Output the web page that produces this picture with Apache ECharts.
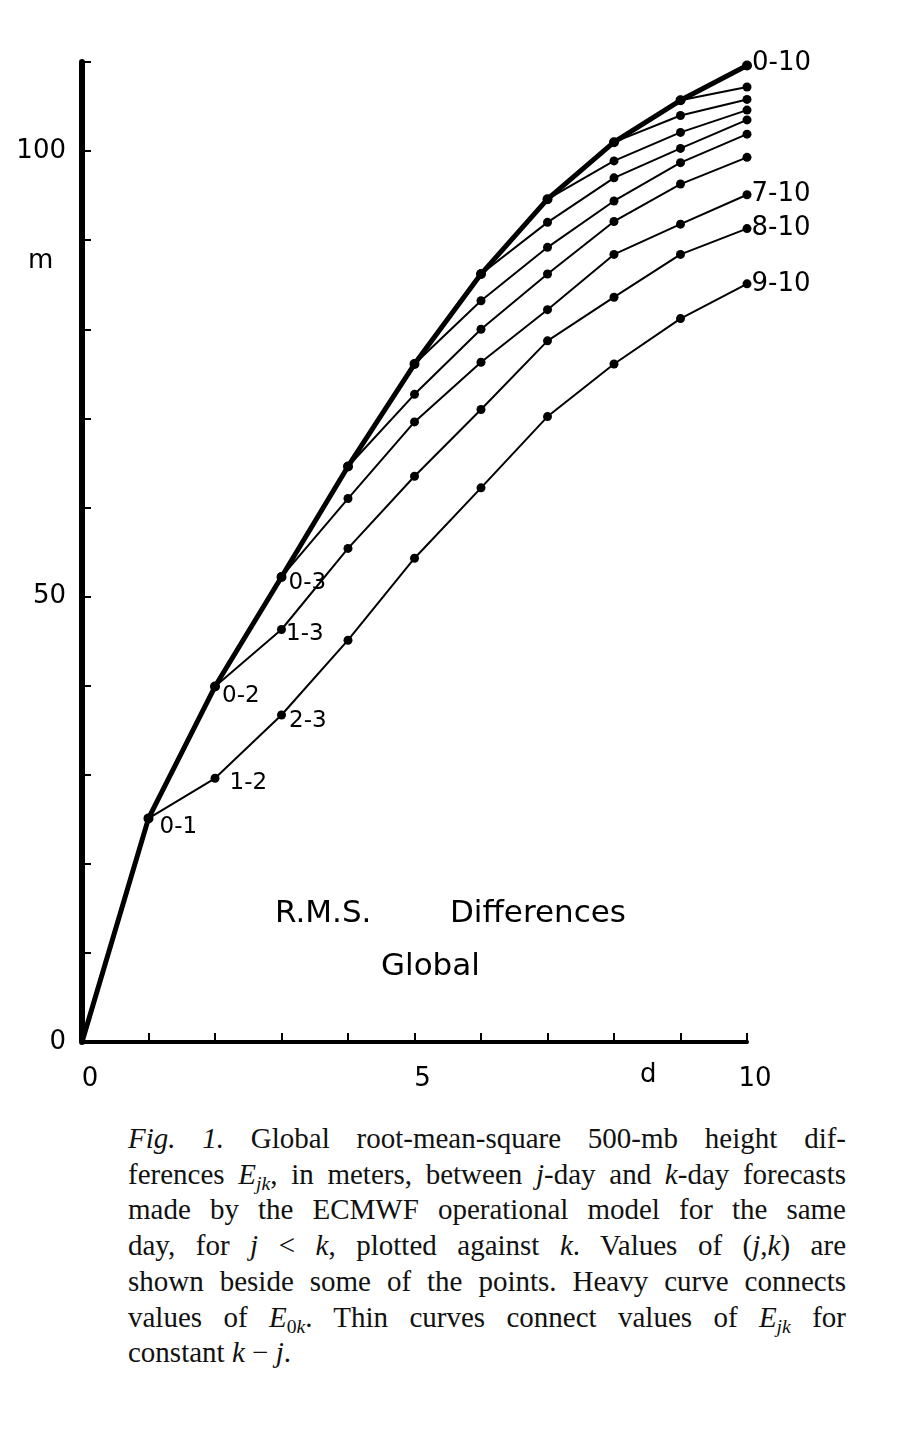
<!DOCTYPE html>
<html>
<head>
<meta charset="utf-8">
<script src="https://cdn.jsdelivr.net/npm/echarts@6/dist/echarts.min.js"></script>
<style>
  html, body { margin: 0; padding: 0; background: #fff; }
  #chart { position: absolute; left: 0; top: 0; width: 902px; height: 1110px; }
  #cap { position: absolute; left: 128px; top: 1121px; width: 718px;
         font-family: "Liberation Serif", "Times New Roman", serif; font-size: 29px;
         line-height: 35.7px; color: #111; }
  #cap .l { text-align: justify; text-align-last: justify; white-space: nowrap; }
  #cap .last { text-align: left; }
  #cap sub { font-size: 0.68em; line-height: 0; vertical-align: -0.3em; }
</style>
</head>
<body>
<div id="chart"></div>
<div id="cap">
  <div class="l"><i>Fig. 1.</i> Global root-mean-square 500-mb height dif-</div>
  <div class="l">ferences <i>E<sub>jk</sub></i>, in meters, between <i>j</i>-day and <i>k</i>-day forecasts</div>
  <div class="l">made by the ECMWF operational model for the same</div>
  <div class="l">day, for <i>j</i> &lt; <i>k</i>, plotted against <i>k</i>. Values of (<i>j</i>,<i>k</i>) are</div>
  <div class="l">shown beside some of the points. Heavy curve connects</div>
  <div class="l">values of <i>E</i><sub>0<i>k</i></sub>. Thin curves connect values of <i>E<sub>jk</sub></i> for</div>
  <div class="last">constant <i>k</i> − <i>j</i>.</div>
</div>
<script>
// ---- data (metres), k = forecast day ----
const heavyE0k = [0, 25.1, 39.9, 52.2, 64.6, 76.1, 86.2, 94.6, 101.0, 105.7, 109.6]; // k = 0..10
// thin curves, constant d = k - j, values for k = d..10
const thinD1 = [25.1, 29.6, 36.7, 45.1, 54.3, 62.2, 70.2, 76.1, 81.2, 85.1];
const thinD2 = [39.9, 46.3, 55.4, 63.5, 71.0, 78.7, 83.6, 88.4, 91.3];
const thinD3 = [52.2, 61.0, 69.6, 76.3, 82.2, 88.4, 91.8, 95.1];
const thinD4 = [64.6, 72.7, 80.0, 86.2, 92.1, 96.3, 99.3];
const thinD5 = [76.1, 83.2, 89.2, 94.4, 98.7, 101.9];
const thinD6 = [86.2, 92.0, 97.0, 100.3, 103.5];
const thinD7 = [94.6, 98.9, 102.1, 104.6];
const thinD8 = [101.0, 104.0, 105.8];
const thinD9 = [105.7, 107.2];
const thinCurves = [thinD1, thinD2, thinD3, thinD4, thinD5, thinD6, thinD7, thinD8, thinD9];

const yTickLabels = [0, 50, 100];
const xTickLabels = [0, 5, 10];
const yUnit = 'm';
const xUnit = 'd';
const innerTitleA = 'R.M.S.';
const innerTitleB = 'Differences';
const innerTitle2 = 'Global';

// point labels: which curve (0 = heavy, d = thin), which k, text
const pointLabels = [
  { curve: 0, k: 1, text: '0-1', offset: [4, 9] },
  { curve: 0, k: 2, text: '0-2', offset: [0, 10] },
  { curve: 0, k: 3, text: '0-3', offset: [0, 6] },
  { curve: 0, k: 10, text: '0-10', offset: [-2, -2] },
  { curve: 1, k: 2, text: '1-2', offset: [8, 5] },
  { curve: 1, k: 3, text: '2-3', offset: [1, 6] },
  { curve: 2, k: 3, text: '1-3', offset: [-2, 5] },
  { curve: 3, k: 10, text: '7-10', offset: [-2, 0] },
  { curve: 2, k: 10, text: '8-10', offset: [-2, 0] },
  { curve: 1, k: 10, text: '9-10', offset: [-2, 0] }
];

const FONT = '"DejaVu Sans", Arial, sans-serif';

function labelFor(curve, k) {
  const p = pointLabels.find(q => q.curve === curve && q.k === k);
  if (!p) return null;
  return { show: true, position: 'right', formatter: p.text, offset: p.offset,
           color: '#000', fontFamily: FONT, fontSize: (k === 10 ? 26 : 23), distance: 2 };
}

const series = [];
thinCurves.forEach((vals, i) => {
  const d = i + 1;
  series.push({
    type: 'line', z: 3,
    data: vals.map((v, j) => {
      const item = { value: [d + j, v] };
      const lab = labelFor(d, d + j);
      if (lab) item.label = lab;
      return item;
    }),
    symbol: 'circle', symbolSize: 9,
    itemStyle: { color: '#000' },
    lineStyle: { color: '#000', width: 2 },
    label: { show: false },
    animation: false
  });
});
series.push({
  type: 'line', z: 4,
  data: heavyE0k.map((v, k) => {
    const item = { value: [k, v] };
    if (k === 0) item.symbolSize = 0;
    const lab = labelFor(0, k);
    if (lab) item.label = lab;
    return item;
  }),
  symbol: 'circle', symbolSize: 10,
  itemStyle: { color: '#000' },
  lineStyle: { color: '#000', width: 5 },
  label: { show: false },
  animation: false
});

const chart = echarts.init(document.getElementById('chart'), null, { renderer: 'canvas' });
chart.setOption({
  backgroundColor: '#fff',
  animation: false,
  grid: { left: 82, top: 62, width: 665, height: 980, containLabel: false },
  xAxis: {
    type: 'value', min: 0, max: 10, interval: 1,
    axisLine: { show: true, lineStyle: { color: '#000', width: 4 } },
    axisTick: { show: true, inside: true, length: 9, lineStyle: { color: '#000', width: 2 } },
    splitLine: { show: false },
    axisLabel: {
      color: '#000', fontFamily: FONT, fontSize: 26, margin: 24,
      padding: [0, 0, 0, 16],
      formatter: v => xTickLabels.includes(v) ? String(v) : ''
    }
  },
  yAxis: {
    type: 'value', min: 0, max: 110, interval: 10,
    axisLine: { show: true, lineStyle: { color: '#000', width: 6 } },
    axisTick: { show: true, inside: true, length: 9, lineStyle: { color: '#000', width: 2 } },
    splitLine: { show: false },
    axisLabel: {
      color: '#000', fontFamily: FONT, fontSize: 26, margin: 16,
      formatter: v => yTickLabels.includes(v) ? String(v) : ''
    }
  },
  graphic: [
    { type: 'text', left: 28, top: 248, style: { text: yUnit, fill: '#000', font: '26px ' + FONT } },
    { type: 'text', left: 640, top: 1062, style: { text: xUnit, fill: '#000', font: '26px ' + FONT } },
    { type: 'text', left: 275, top: 898, style: { text: innerTitleA, fill: '#000', font: '31px ' + FONT } },
    { type: 'text', left: 450, top: 898, style: { text: innerTitleB, fill: '#000', font: '31px ' + FONT } },
    { type: 'text', left: 381, top: 951, style: { text: innerTitle2, fill: '#000', font: '31px ' + FONT } }
  ],
  series: series
});
</script>
</body>
</html>
